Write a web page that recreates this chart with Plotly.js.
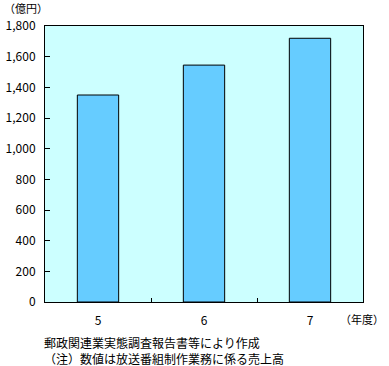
<!DOCTYPE html>
<html>
<head>
<meta charset="utf-8">
<script src="https://cdn.plot.ly/plotly-3.0.1.min.js"></script>
<style>html,body{margin:0;padding:0;background:#fff;}</style>
</head>
<body>
<div id="chart" style="width:389px;height:366px;"></div>
<script>
const categories = ["5", "6", "7"];
const values = [1350, 1545, 1720];
const yTicks = [0, 200, 400, 600, 800, 1000, 1200, 1400, 1600, 1800];
const yTickLabels = ["0", "200", "400", "600", "800", "1,000", "1,200", "1,400", "1,600", "1,800"];

const FONT = '"Noto Sans CJK JP", "Noto Sans", sans-serif';

const data = [{
  type: 'bar',
  x: categories,
  y: values,
  marker: {color: '#66CCFF', line: {color: '#000', width: 1}},
  hoverinfo: 'skip'
}];

const layout = {
  width: 389, height: 366,
  margin: {l: 45, r: 26, t: 26, b: 64},
  paper_bgcolor: '#fff',
  plot_bgcolor: '#CCFFFF',
  font: {family: FONT, size: 12, color: '#000'},
  bargap: 0.61,
  showlegend: false,
  xaxis: {
    type: 'category',
    showline: true, linecolor: '#000', linewidth: 1, mirror: true,
    ticks: 'inside', tickson: 'boundaries', ticklen: 4, tickcolor: '#000',
    showgrid: false, zeroline: false,
    ticklabelstandoff: 8,
    tickfont: {family: FONT, size: 12},
    fixedrange: true
  },
  yaxis: {
    range: [0, 1800],
    tickvals: yTicks, ticktext: yTickLabels,
    showline: true, linecolor: '#000', linewidth: 1, mirror: true,
    ticks: 'inside', ticklen: 5, tickcolor: '#000',
    showgrid: false, zeroline: false,
    ticklabelstandoff: 6,
    tickfont: {family: FONT, size: 12},
    fixedrange: true
  },
  annotations: [
    {text: '（億円）', xref: 'paper', yref: 'paper', x: -0.135, y: 1.0, yshift: 18, xanchor: 'left', yanchor: 'middle', showarrow: false, font: {family: FONT, size: 11}},
    {text: '（年度）', xref: 'paper', yref: 'paper', x: 1.0, xshift: 23, y: 0, yshift: -17, xanchor: 'right', yanchor: 'middle', showarrow: false, font: {family: FONT, size: 11}},
    {text: '郵政関連業実態調査報告書等により作成<br>（注）数値は放送番組制作業務に係る売上高', xref: 'paper', yref: 'paper', x: 0, xshift: -3, y: 0, yshift: -48, xanchor: 'left', yanchor: 'middle', align: 'left', showarrow: false, font: {family: FONT, size: 12}}
  ]
};

Plotly.newPlot('chart', data, layout, {displayModeBar: false, staticPlot: true});
</script>
</body>
</html>
